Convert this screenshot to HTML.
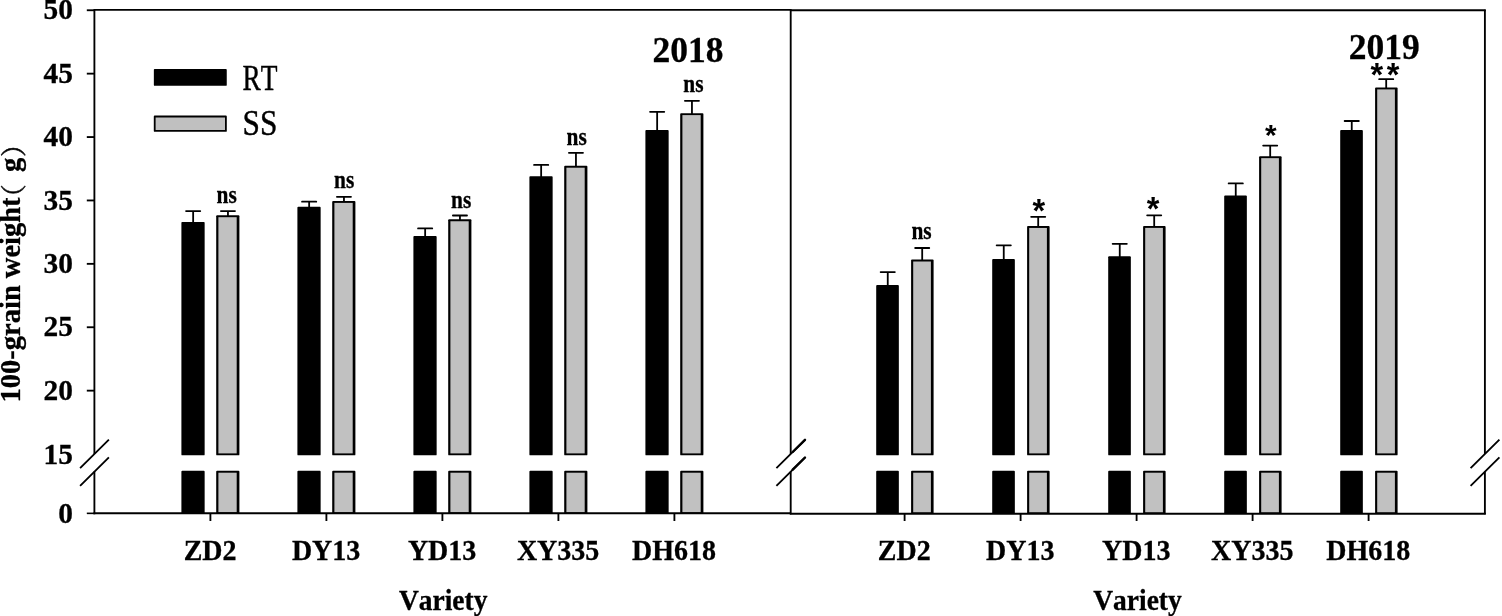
<!DOCTYPE html>
<html><head><meta charset="utf-8"><title>100-grain weight</title>
<style>html,body{margin:0;padding:0;background:#fff}svg{display:block}text{font-family:"Liberation Serif","Noto Serif CJK SC",serif;fill:#000;font-kerning:none}.b{font-weight:bold;stroke:#000;stroke-width:0.3}.ax{stroke:#000;stroke-width:1.85;fill:none;stroke-linecap:butt}.bk{fill:#000;stroke:#000;stroke-width:1.7;stroke-linejoin:round}.gr{fill:#c0c0c0;stroke:#000;stroke-width:1.8;stroke-linejoin:round}.er{stroke:#000;stroke-width:1.8;fill:none;stroke-linecap:round}.st{font-family:"Liberation Sans",sans-serif;font-weight:bold}.sim{stroke:#000;stroke-width:0.45}.ns{stroke:#000;stroke-width:0.3}</style></head><body>
<svg width="1502" height="616" viewBox="0 0 1502 616">
<rect width="1502" height="616" fill="#fff"/>
<path class="er" d="M193.15 222.40V211.10M186.05 211.10H200.25"/>
<path class="er" d="M227.95 215.80V211.10M220.90 211.10H235.00"/>
<rect fill="#000" x="181.40" y="221.90" width="23.25" height="233.40" rx="0.9"/>
<rect fill="#000" x="181.40" y="470.80" width="23.25" height="43.20" rx="0.9"/>
<rect fill="#000" x="216.20" y="215.30" width="23.20" height="240.00" rx="0.9"/>
<rect fill="#c1c1c1" x="218.40" y="217.20" width="18.30" height="236.20"/>
<rect fill="#000" x="216.20" y="470.80" width="23.20" height="43.20" rx="0.9"/>
<rect fill="#c1c1c1" x="218.40" y="472.70" width="18.30" height="39.60"/>
<path class="ax" d="M210.40 513.00V521.00"/>
<text class="b" transform="translate(210.10 560.00) scale(1 1.035)" font-size="28" text-anchor="middle">ZD2</text>
<text class="b ns" transform="translate(216.60 203.00) scale(1 1.06)" font-size="24" text-anchor="start" textLength="20.2" lengthAdjust="spacingAndGlyphs">ns</text>
<path class="er" d="M309.15 207.30V201.70M302.05 201.70H316.25"/>
<path class="er" d="M343.95 201.50V196.80M336.90 196.80H351.00"/>
<rect fill="#000" x="297.40" y="206.80" width="23.25" height="248.50" rx="0.9"/>
<rect fill="#000" x="297.40" y="470.80" width="23.25" height="43.20" rx="0.9"/>
<rect fill="#000" x="332.20" y="201.00" width="23.20" height="254.30" rx="0.9"/>
<rect fill="#c1c1c1" x="334.40" y="202.90" width="18.30" height="250.50"/>
<rect fill="#000" x="332.20" y="470.80" width="23.20" height="43.20" rx="0.9"/>
<rect fill="#c1c1c1" x="334.40" y="472.70" width="18.30" height="39.60"/>
<path class="ax" d="M326.40 513.00V521.00"/>
<text class="b" transform="translate(326.10 560.00) scale(1 1.035)" font-size="28" text-anchor="middle">DY13</text>
<text class="b ns" transform="translate(334.10 188.00) scale(1 1.06)" font-size="24" text-anchor="start" textLength="20.2" lengthAdjust="spacingAndGlyphs">ns</text>
<path class="er" d="M425.15 236.50V228.45M418.05 228.45H432.25"/>
<path class="er" d="M459.95 219.85V215.50M452.90 215.50H467.00"/>
<rect fill="#000" x="413.40" y="236.00" width="23.25" height="219.30" rx="0.9"/>
<rect fill="#000" x="413.40" y="470.80" width="23.25" height="43.20" rx="0.9"/>
<rect fill="#000" x="448.20" y="219.35" width="23.20" height="235.95" rx="0.9"/>
<rect fill="#c1c1c1" x="450.40" y="221.25" width="18.30" height="232.15"/>
<rect fill="#000" x="448.20" y="470.80" width="23.20" height="43.20" rx="0.9"/>
<rect fill="#c1c1c1" x="450.40" y="472.70" width="18.30" height="39.60"/>
<path class="ax" d="M442.40 513.00V521.00"/>
<text class="b" transform="translate(442.10 560.00) scale(1 1.035)" font-size="28" text-anchor="middle">YD13</text>
<text class="b ns" transform="translate(451.00 208.00) scale(1 1.06)" font-size="24" text-anchor="start" textLength="20.2" lengthAdjust="spacingAndGlyphs">ns</text>
<path class="er" d="M541.15 176.65V164.95M534.05 164.95H548.25"/>
<path class="er" d="M575.95 166.30V152.80M568.90 152.80H583.00"/>
<rect fill="#000" x="529.40" y="176.15" width="23.25" height="279.15" rx="0.9"/>
<rect fill="#000" x="529.40" y="470.80" width="23.25" height="43.20" rx="0.9"/>
<rect fill="#000" x="564.20" y="165.80" width="23.20" height="289.50" rx="0.9"/>
<rect fill="#c1c1c1" x="566.40" y="167.70" width="18.30" height="285.70"/>
<rect fill="#000" x="564.20" y="470.80" width="23.20" height="43.20" rx="0.9"/>
<rect fill="#c1c1c1" x="566.40" y="472.70" width="18.30" height="39.60"/>
<path class="ax" d="M558.40 513.00V521.00"/>
<text class="b" transform="translate(558.10 560.00) scale(1 1.035)" font-size="28" text-anchor="middle">XY335</text>
<text class="b ns" transform="translate(566.60 145.00) scale(1 1.06)" font-size="24" text-anchor="start" textLength="20.2" lengthAdjust="spacingAndGlyphs">ns</text>
<path class="er" d="M657.15 130.55V111.85M650.05 111.85H664.25"/>
<path class="er" d="M691.95 113.70V100.85M684.90 100.85H699.00"/>
<rect fill="#000" x="645.40" y="130.05" width="23.25" height="325.25" rx="0.9"/>
<rect fill="#000" x="645.40" y="470.80" width="23.25" height="43.20" rx="0.9"/>
<rect fill="#000" x="680.20" y="113.20" width="23.20" height="342.10" rx="0.9"/>
<rect fill="#c1c1c1" x="682.40" y="115.10" width="18.30" height="338.30"/>
<rect fill="#000" x="680.20" y="470.80" width="23.20" height="43.20" rx="0.9"/>
<rect fill="#c1c1c1" x="682.40" y="472.70" width="18.30" height="39.60"/>
<path class="ax" d="M674.40 513.00V521.00"/>
<text class="b" transform="translate(674.10 560.00) scale(1 1.035)" font-size="28" text-anchor="middle">DH618</text>
<text class="b ns" transform="translate(683.30 92.00) scale(1 1.06)" font-size="24" text-anchor="start" textLength="20.2" lengthAdjust="spacingAndGlyphs">ns</text>
<path class="er" d="M887.75 285.50V272.10M880.65 272.10H894.85"/>
<path class="er" d="M922.20 260.10V248.00M915.15 248.00H929.25"/>
<rect fill="#000" x="876.20" y="285.00" width="22.65" height="170.30" rx="0.9"/>
<rect fill="#000" x="876.20" y="470.80" width="22.65" height="43.20" rx="0.9"/>
<rect fill="#000" x="911.10" y="259.60" width="22.50" height="195.70" rx="0.9"/>
<rect fill="#c1c1c1" x="913.20" y="261.50" width="17.70" height="191.90"/>
<rect fill="#000" x="911.10" y="470.80" width="22.50" height="43.20" rx="0.9"/>
<rect fill="#c1c1c1" x="913.20" y="472.70" width="17.70" height="39.60"/>
<path class="ax" d="M904.60 513.00V521.00"/>
<text class="b" transform="translate(904.30 560.00) scale(1 1.035)" font-size="28" text-anchor="middle">ZD2</text>
<text class="b ns" transform="translate(911.40 239.00) scale(1 1.06)" font-size="24" text-anchor="start" textLength="20.2" lengthAdjust="spacingAndGlyphs">ns</text>
<path class="er" d="M1003.75 259.55V245.35M996.65 245.35H1010.85"/>
<path class="er" d="M1038.20 226.55V216.80M1031.15 216.80H1045.25"/>
<rect fill="#000" x="992.20" y="259.05" width="22.65" height="196.25" rx="0.9"/>
<rect fill="#000" x="992.20" y="470.80" width="22.65" height="43.20" rx="0.9"/>
<rect fill="#000" x="1027.10" y="226.05" width="22.50" height="229.25" rx="0.9"/>
<rect fill="#c1c1c1" x="1029.20" y="227.95" width="17.70" height="225.45"/>
<rect fill="#000" x="1027.10" y="470.80" width="22.50" height="43.20" rx="0.9"/>
<rect fill="#c1c1c1" x="1029.20" y="472.70" width="17.70" height="39.60"/>
<path class="ax" d="M1020.60 513.00V521.00"/>
<text class="b" transform="translate(1020.30 560.00) scale(1 1.035)" font-size="28" text-anchor="middle">DY13</text>
<text class="st" transform="translate(1038.85 222.00) scale(1 1)" font-size="32.5" text-anchor="middle">*</text>
<path class="er" d="M1119.75 256.80V243.80M1112.65 243.80H1126.85"/>
<path class="er" d="M1154.20 226.50V215.30M1147.15 215.30H1161.25"/>
<rect fill="#000" x="1108.20" y="256.30" width="22.65" height="199.00" rx="0.9"/>
<rect fill="#000" x="1108.20" y="470.80" width="22.65" height="43.20" rx="0.9"/>
<rect fill="#000" x="1143.10" y="226.00" width="22.50" height="229.30" rx="0.9"/>
<rect fill="#c1c1c1" x="1145.20" y="227.90" width="17.70" height="225.50"/>
<rect fill="#000" x="1143.10" y="470.80" width="22.50" height="43.20" rx="0.9"/>
<rect fill="#c1c1c1" x="1145.20" y="472.70" width="17.70" height="39.60"/>
<path class="ax" d="M1136.60 513.00V521.00"/>
<text class="b" transform="translate(1136.30 560.00) scale(1 1.035)" font-size="28" text-anchor="middle">YD13</text>
<text class="st" transform="translate(1153.20 220.00) scale(1 1)" font-size="32.5" text-anchor="middle">*</text>
<path class="er" d="M1235.75 196.05V183.40M1228.65 183.40H1242.85"/>
<path class="er" d="M1270.20 156.75V145.60M1263.15 145.60H1277.25"/>
<rect fill="#000" x="1224.20" y="195.55" width="22.65" height="259.75" rx="0.9"/>
<rect fill="#000" x="1224.20" y="470.80" width="22.65" height="43.20" rx="0.9"/>
<rect fill="#000" x="1259.10" y="156.25" width="22.50" height="299.05" rx="0.9"/>
<rect fill="#c1c1c1" x="1261.20" y="158.15" width="17.70" height="295.25"/>
<rect fill="#000" x="1259.10" y="470.80" width="22.50" height="43.20" rx="0.9"/>
<rect fill="#c1c1c1" x="1261.20" y="472.70" width="17.70" height="39.60"/>
<path class="ax" d="M1252.60 513.00V521.00"/>
<text class="b" transform="translate(1252.30 560.00) scale(1 1.035)" font-size="28" text-anchor="middle">XY335</text>
<text class="st" transform="translate(1270.90 145.00) scale(1 1)" font-size="29.8" text-anchor="middle">*</text>
<path class="er" d="M1351.75 130.50V121.00M1344.65 121.00H1358.85"/>
<path class="er" d="M1386.20 88.00V79.20M1379.15 79.20H1393.25"/>
<rect fill="#000" x="1340.20" y="130.00" width="22.65" height="325.30" rx="0.9"/>
<rect fill="#000" x="1340.20" y="470.80" width="22.65" height="43.20" rx="0.9"/>
<rect fill="#000" x="1375.10" y="87.50" width="22.50" height="367.80" rx="0.9"/>
<rect fill="#c1c1c1" x="1377.20" y="89.40" width="17.70" height="364.00"/>
<rect fill="#000" x="1375.10" y="470.80" width="22.50" height="43.20" rx="0.9"/>
<rect fill="#c1c1c1" x="1377.20" y="472.70" width="17.70" height="39.60"/>
<path class="ax" d="M1368.60 513.00V521.00"/>
<text class="b" transform="translate(1368.30 560.00) scale(1 1.035)" font-size="28" text-anchor="middle">DH618</text>
<text class="st" transform="translate(1376.75 86.00) scale(1 1)" font-size="32.5" text-anchor="middle">*</text>
<text class="st" transform="translate(1393.10 86.00) scale(1 1)" font-size="32.5" text-anchor="middle">*</text>
<path class="ax" d="M93.55 9.80H791.55"/>
<path class="ax" d="M790.70 10.20H1485.75"/>
<path class="ax" style="stroke-width:1.6" d="M86.80 513.35H94.40"/>
<path class="ax" style="stroke-width:2.1" d="M93.50 513.30H790.70"/>
<path class="ax" style="stroke-width:2.1" d="M789.80 513.75H1485.80"/>
<path class="ax" d="M94.40 9.80V453.90M94.40 471.60V514.30"/>
<path class="ax" stroke-linecap="round" d="M80.10 468.2L108.90 439.6M80.10 485.9L108.90 457.3"/>
<path class="ax" d="M790.70 9.80V453.90M790.70 471.60V514.30"/>
<path class="ax" stroke-linecap="round" d="M776.40 468.2L805.20 439.6M776.40 485.9L805.20 457.3"/>
<path class="ax" d="M1484.90 9.80V453.90M1484.90 471.60V514.30"/>
<path class="ax" stroke-linecap="round" d="M1470.60 468.2L1499.40 439.6M1470.60 485.9L1499.40 457.3"/>
<path class="ax" style="stroke-width:2.4;stroke-linecap:round" d="M792.70 452.0L805.00 439.8M792.70 469.7L805.00 457.5"/>
<path class="ax" d="M86.80 10.25H94.40"/>
<text class="b" transform="translate(73.00 19.00) scale(1 1.025)" font-size="29.4" text-anchor="end">50</text>
<path class="ax" d="M86.80 73.65H94.40"/>
<text class="b" transform="translate(73.00 83.00) scale(1 1.025)" font-size="29.4" text-anchor="end">45</text>
<path class="ax" d="M86.80 137.05H94.40"/>
<text class="b" transform="translate(73.00 146.00) scale(1 1.025)" font-size="29.4" text-anchor="end">40</text>
<path class="ax" d="M86.80 200.45H94.40"/>
<text class="b" transform="translate(73.00 210.00) scale(1 1.025)" font-size="29.4" text-anchor="end">35</text>
<path class="ax" d="M86.80 263.85H94.40"/>
<text class="b" transform="translate(73.00 273.00) scale(1 1.025)" font-size="29.4" text-anchor="end">30</text>
<path class="ax" d="M86.80 327.25H94.40"/>
<text class="b" transform="translate(73.00 336.00) scale(1 1.025)" font-size="29.4" text-anchor="end">25</text>
<path class="ax" d="M86.80 390.65H94.40"/>
<text class="b" transform="translate(73.00 400.00) scale(1 1.025)" font-size="29.4" text-anchor="end">20</text>
<text class="b" transform="translate(73.00 464.00) scale(1 1.025)" font-size="29.4" text-anchor="end">15</text>
<text class="b" transform="translate(73.00 523.00) scale(1 1.025)" font-size="29.4" text-anchor="end">0</text>
<text class="b" transform="translate(443.20 610.00) scale(1 1.035)" font-size="28" text-anchor="middle" textLength="88.5" lengthAdjust="spacingAndGlyphs">Variety</text>
<text class="b" transform="translate(1137.50 610.00) scale(1 1.035)" font-size="28" text-anchor="middle" textLength="88.5" lengthAdjust="spacingAndGlyphs">Variety</text>
<g transform="translate(19.5 402.4) rotate(-90)"><text class="b" transform="scale(1 1.035)" x="0" y="0" font-size="28.5">100-grain weight</text><text class="sim" x="192.2" y="3.0" font-size="26">（</text><text class="b" transform="scale(1 1.035)" x="230.5" y="0" font-size="28.5">g</text><text class="sim" x="245.3" y="3.0" font-size="26">）</text></g>
<text class="b" transform="translate(688.10 62.00) scale(1 1.03)" font-size="35.5" text-anchor="middle">2018</text>
<text class="b" transform="translate(1384.20 59.00) scale(1 1.03)" font-size="35.5" text-anchor="middle">2019</text>
<rect class="bk" x="154.7" y="69.8" width="71.2" height="15.1"/>
<rect class="gr" x="154.7" y="116.5" width="71.2" height="14.4"/>
<text class="sim" x="242.5" y="90.1" font-size="36" textLength="35" lengthAdjust="spacingAndGlyphs">RT</text>
<text class="sim" x="242.6" y="135.2" font-size="36" textLength="34.8" lengthAdjust="spacingAndGlyphs">SS</text>
</svg></body></html>
